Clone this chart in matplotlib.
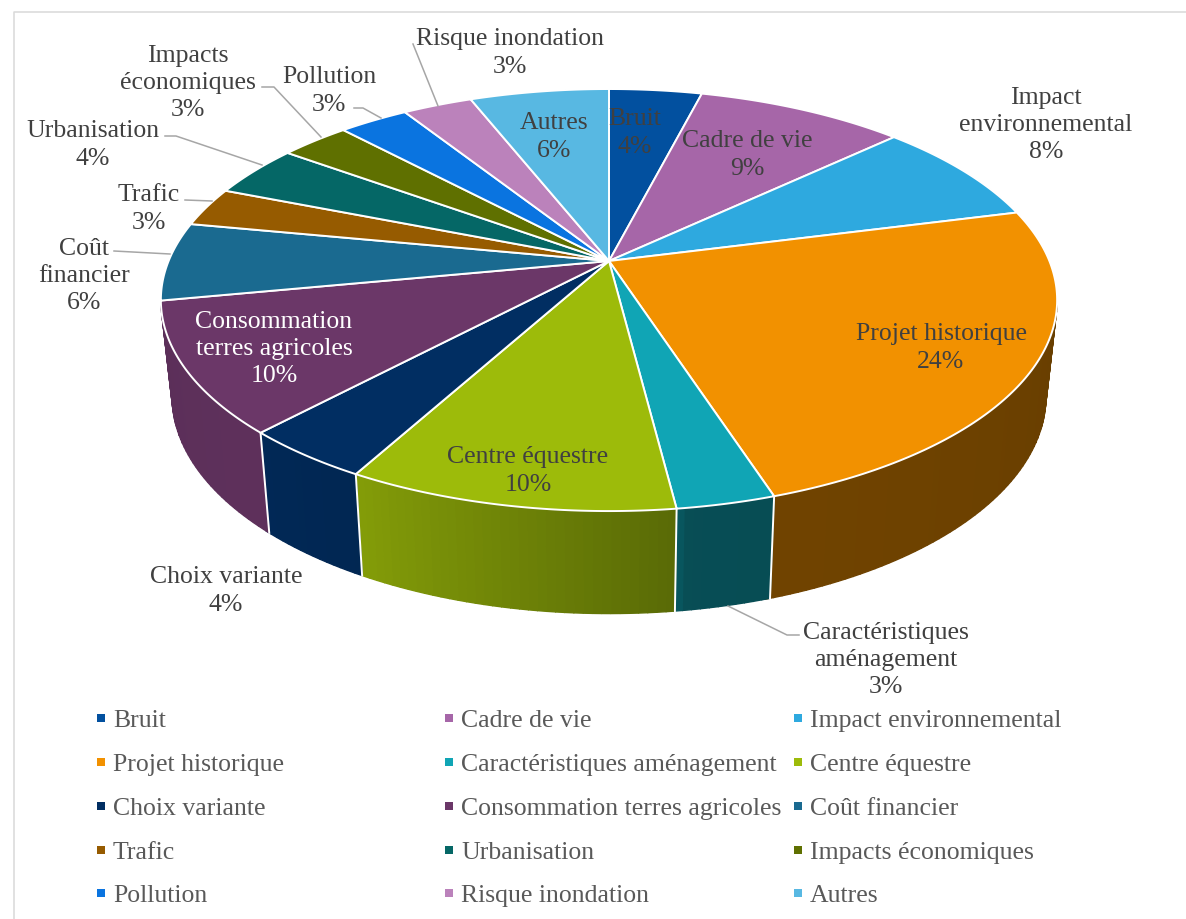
#!/usr/bin/env python3
# -*- coding: utf-8 -*-
import numpy as np
import matplotlib
matplotlib.use('Agg')
import matplotlib.pyplot as plt

plt.rcParams['font.family'] = ['Liberation Serif', 'DejaVu Serif']

categories = ['Bruit', 'Cadre de vie', 'Impact environnemental', 'Projet historique',
              'Caractéristiques aménagement', 'Centre équestre', 'Choix variante',
              'Consommation terres agricoles', 'Coût financier', 'Trafic', 'Urbanisation',
              'Impacts économiques', 'Pollution', 'Risque inondation', 'Autres']
values = [4, 9, 8, 24, 3, 10, 4, 10, 6, 3, 4, 3, 3, 3, 6]
colors = ['#02509f', '#a666a8', '#2ea9df', '#f29100', '#10a5b5', '#9dbb0a', '#012e62',
          '#6b3768', '#1a6a90', '#965b00', '#056766', '#5f7000', '#0a74e0', '#bb82bb',
          '#58b8e2']

# label text, x, y of the block centre, text colour
labels = [
    ('Bruit', 635, 133, '#404040'),
    ('Cadre de vie', 747, 155, '#404040'),
    ('Impact\nenvironnemental', 1046, 125, '#404040'),
    ('Projet historique', 941, 348, '#404040'),
    ('Caractéristiques\naménagement', 886, 660, '#404040'),
    ('Centre équestre', 528, 471, '#404040'),
    ('Choix variante', 226, 591, '#404040'),
    ('Consommation\nterres agricoles', 274, 349, 'white'),
    ('Coût\nfinancier', 84, 276, '#404040'),
    ('Trafic', 149, 209, '#404040'),
    ('Urbanisation', 93, 145, '#404040'),
    ('Impacts\néconomiques', 188, 83, '#404040'),
    ('Pollution', 329, 91, '#404040'),
    ('Risque inondation', 510, 53, '#404040'),
    ('Autres', 554, 137, '#404040'),
]

# leader lines from the outside labels to their slices
leaders = [
    ([413, 438], [45, 107]),
    ([262, 274, 321], [88, 88, 138]),
    ([354, 363, 381], [109, 109, 119]),
    ([165, 176, 262], [137, 137, 166]),
    ([185, 212], [201, 202]),
    ([114, 170], [252, 255]),
    ([728, 787, 799], [607, 636, 636]),
]

# pie geometry, in pixels
cx, cy = 609, 262
A, B, P = 440.4, 203.8, 0.185
depth = 95


def top(a):
    # a = degrees clockwise from 12 o'clock, perspective on the disc
    r = np.radians(a)
    w = 1 + P * np.cos(r)
    return cx + A * np.sin(r) / w, cy - B * np.cos(r) / w


def bottom(a):
    x, y = top(a)
    return cx + 0.975 * (x - cx), cy + depth + 1.03 * (y - cy)


def darker(col, f):
    rgb = np.array(matplotlib.colors.to_rgb(col))
    return tuple(rgb * f)


# how dark the side wall gets around the pie
shade_a = [100, 172, 173, 209, 225, 262]
shade_f = [0.43, 0.47, 0.57, 0.84, 0.88, 0.85]

fig = plt.figure(figsize=(11.86, 9.2), dpi=100)
ax = fig.add_axes([0, 0, 1, 1])
ax.set_xlim(0, 1186)
ax.set_ylim(920, 0)
ax.axis('off')

# chart frame, open on the right and at the bottom
ax.plot([14, 14, 1186], [920, 13, 13], color='#d9d9d9', lw=1.1)

edges = np.cumsum([0] + values) * 3.6

# side walls first, the top disc goes over them
for i in range(len(values)):
    a0, a1 = edges[i], edges[i + 1]
    lo, hi = max(a0, 100.6), min(a1, 259.2)
    if lo >= hi:
        continue
    steps = np.arange(lo, hi + 1, 1.0)
    if steps[-1] < hi:
        steps = np.append(steps, hi)
    for s0, s1 in zip(steps[:-1], steps[1:]):
        tx0, ty0 = top(s0)
        tx1, ty1 = top(s1)
        bx0, by0 = bottom(s0)
        bx1, by1 = bottom(s1)
        c = darker(colors[i], np.interp((s0 + s1) / 2, shade_a, shade_f))
        ax.fill([tx0, tx1, bx1, bx0], [ty0, ty1, by1, by0], color=c, lw=1.0, zorder=2)

# white seams between the wall pieces
for a in edges:
    if 150 < a < 240:
        tx, ty = top(a)
        bx, by = bottom(a)
        ax.plot([tx, bx], [ty, by], color='white', lw=1.4, zorder=3)

for i in range(len(values)):
    arc = np.linspace(edges[i], edges[i + 1], 120)
    x, y = top(arc)
    ax.fill(np.r_[cx, x], np.r_[cy, y], facecolor=colors[i], edgecolor='white',
            lw=1.4, joinstyle='round', zorder=4)

for lx, ly in leaders:
    ax.plot(lx, ly, color='#a6a6a6', lw=1.1, zorder=5)

for (txt, x, y, col), v in zip(labels, values):
    ax.text(x, y, '%s\n%d%%' % (txt, v), ha='center', va='center', color=col,
            fontsize=18.5, linespacing=1.3, zorder=6)

# legend, three columns filled row by row
col_x = [101, 449, 798]
row_y = [719, 763, 807, 851, 894]
for i, name in enumerate(categories):
    lx = col_x[i % 3]
    ly = row_y[i // 3]
    ax.scatter([lx], [ly], marker='s', s=26, color=colors[i], linewidths=0, zorder=5)
    ax.text(lx + 12, ly + 2.5, name, ha='left', va='center', color='#595959', fontsize=18.5)

fig.savefig('out.png', dpi=100)
